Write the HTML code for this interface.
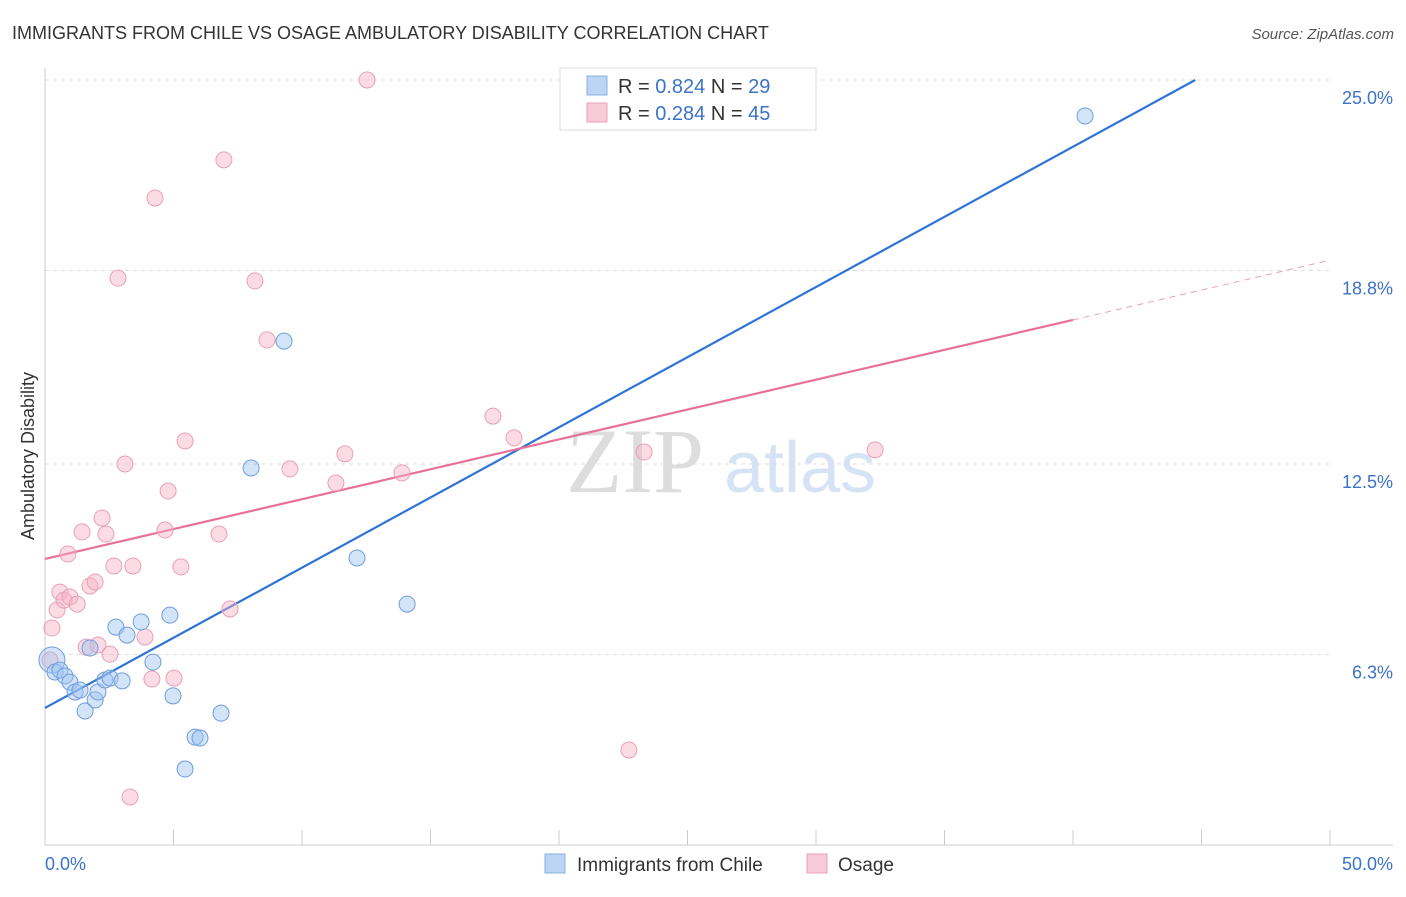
<!DOCTYPE html>
<html><head><meta charset="utf-8"><style>
body{margin:0;background:#fff;font-family:"Liberation Sans",sans-serif}
svg text{font-family:"Liberation Sans",sans-serif}
</style></head><body>
<svg id="chart" width="1406" height="892" viewBox="0 0 1406 892" xmlns="http://www.w3.org/2000/svg">
<text x="12" y="39" font-size="18" fill="#333">IMMIGRANTS FROM CHILE VS OSAGE AMBULATORY DISABILITY CORRELATION CHART</text>
<text x="1394" y="39" font-size="15" fill="#555" text-anchor="end" font-style="italic">Source: ZipAtlas.com</text>
<g>
<text x="635" y="492" font-size="92" fill="#ddd" text-anchor="middle" font-family="Liberation Serif" style="font-family:'Liberation Serif',serif">ZIP</text>
<text x="800" y="492" font-size="72" fill="#d5e3f5" text-anchor="middle">atlas</text>
</g>
<g id="grid"></g>
<g id="axes"></g>
<text transform="translate(34,456) rotate(-90)" font-size="18" fill="#333" text-anchor="middle">Ambulatory Disability</text>
<g id="lines"></g>
<g id="points"></g>
<g>
<rect x="560" y="68" width="256" height="62" fill="#fff" stroke="#ddd"/>
<rect x="587" y="76" width="20" height="19" fill="#bcd5f5" stroke="#8ab0e0"/>
<text x="618" y="93" font-size="20" fill="#333">R = <tspan fill="#3a73c9">0.824</tspan>   N = <tspan fill="#3a73c9">29</tspan></text>
<rect x="587" y="103" width="20" height="19" fill="#f9cbd8" stroke="#eaa0b5"/>
<text x="618" y="120" font-size="20" fill="#333">R = <tspan fill="#3a73c9">0.284</tspan>   N = <tspan fill="#3a73c9">45</tspan></text>
</g>
<g>
<rect x="545" y="854" width="20" height="19" fill="#bcd5f5" stroke="#8ab0e0"/>
<text x="577" y="871" font-size="19" fill="#333">Immigrants from Chile</text>
<rect x="807" y="854" width="20" height="19" fill="#f9cbd8" stroke="#eaa0b5"/>
<text x="838" y="871" font-size="19" fill="#333">Osage</text>
</g>
</svg>
<script>
const yTicks=[25.0,18.8,12.5,6.3];
const yTickLabels=["25.0%","18.8%","12.5%","6.3%"];
const xTickLabels=["0.0%","50.0%"];
const chileX=[0.27,0.39,0.58,0.78,0.97,1.17,1.36,1.56,1.95,2.06,1.75,2.33,2.53,3.00,2.76,3.19,3.74,4.20,4.86,4.98,5.45,5.84,6.03,6.85,8.02,9.30,12.14,14.09,40.47];
const chileY=[6.12,5.73,5.79,5.60,5.40,5.08,5.14,4.46,4.82,5.08,6.51,5.47,5.53,5.44,7.19,6.93,7.36,6.05,7.58,4.95,2.57,3.61,3.58,4.39,12.37,16.50,9.44,7.94,23.83];
const osageX=[0.19,0.27,0.47,0.58,0.74,0.97,1.25,0.89,1.44,1.75,1.95,1.60,2.06,2.22,2.37,2.53,2.68,2.84,3.11,3.31,3.42,3.89,4.16,4.28,4.67,4.79,5.02,5.29,5.45,6.77,6.96,7.20,8.17,8.64,9.53,11.32,11.67,12.53,13.89,17.43,18.25,22.72,23.31,32.30];
const osageY=[6.12,7.16,7.75,8.33,8.07,8.17,7.94,9.57,10.29,8.53,8.66,6.54,6.61,10.74,10.22,6.31,9.18,18.55,12.50,1.66,9.18,6.87,5.50,21.16,10.35,11.62,5.53,9.15,13.25,10.22,22.40,7.78,18.46,16.54,12.34,11.88,12.83,25.0,12.21,14.06,13.35,3.19,12.89,12.96];
const chileTrend=[4.56,0.4567]; // intercept, slope
const osageTrend=[9.41,0.1945];
const NS="http://www.w3.org/2000/svg";
const X=v=>45+v*25.7, Y=v=>80+(25-v)*30.72;
function mk(t,a,p){const e=document.createElementNS(NS,t);for(const k in a)e.setAttribute(k,a[k]);p.appendChild(e);return e;}
const grid=document.getElementById('grid'),axes=document.getElementById('axes'),lines=document.getElementById('lines'),pts=document.getElementById('points');
yTicks.forEach((t,i)=>{
 const l=mk('line',{x1:45,x2:1330,y1:Y(t),y2:Y(t),stroke:'#ddd','stroke-dasharray':'4,4'},grid);
 
 
 const tx=mk('text',{x:1393,y:Y(t)+24,'font-size':18,fill:'#3a73c9','text-anchor':'end'},axes);
 tx.textContent=yTickLabels[i];
 
 
});
mk('line',{x1:45,x2:45,y1:68,y2:845,stroke:'#ccc'},axes);
mk('line',{x1:45,x2:1393,y1:845,y2:845,stroke:'#ccc'},axes);
for(let i=0;i<=10;i++){const l=mk('line',{x1:X(i*5),x2:X(i*5),y1:830,y2:845,stroke:'#ccc'},axes);
 
 }
[[0,45,'start'],[50,1393,'end']].forEach((d,i)=>{const t=mk('text',{x:d[1],y:870,'font-size':18,fill:'#3a73c9','text-anchor':d[2]},axes);t.textContent=xTickLabels[i];
 
 });
const cx1=(25-chileTrend[0])/chileTrend[1];
const bl=mk('line',{x1:X(0),y1:Y(chileTrend[0]),x2:X(cx1),y2:Y(25),stroke:'#2f73d6','stroke-width':2.2},lines);


const pl=mk('line',{x1:X(0),y1:Y(osageTrend[0]),x2:X(40),y2:Y(osageTrend[0]+40*osageTrend[1]),stroke:'#e8709a','stroke-width':2.2},lines);


const pd=mk('line',{x1:X(40),y1:Y(osageTrend[0]+40*osageTrend[1]),x2:X(50),y2:Y(osageTrend[0]+50*osageTrend[1]),stroke:'#e8a0b8','stroke-width':1,'stroke-dasharray':'6,5'},lines);


osageX.forEach((v,i)=>{const c=mk('circle',{cx:X(v),cy:Y(osageY[i]),r:8,fill:'rgba(246,178,198,0.45)',stroke:'#e8a0b8','stroke-width':1},pts);
 
 });
chileX.forEach((v,i)=>{const c=mk('circle',{cx:X(v),cy:Y(chileY[i]),r:i===0?13:8,fill:'rgba(160,195,240,0.45)',stroke:'#6e9ede','stroke-width':1},pts);
 
 });
</script>
</body></html>
